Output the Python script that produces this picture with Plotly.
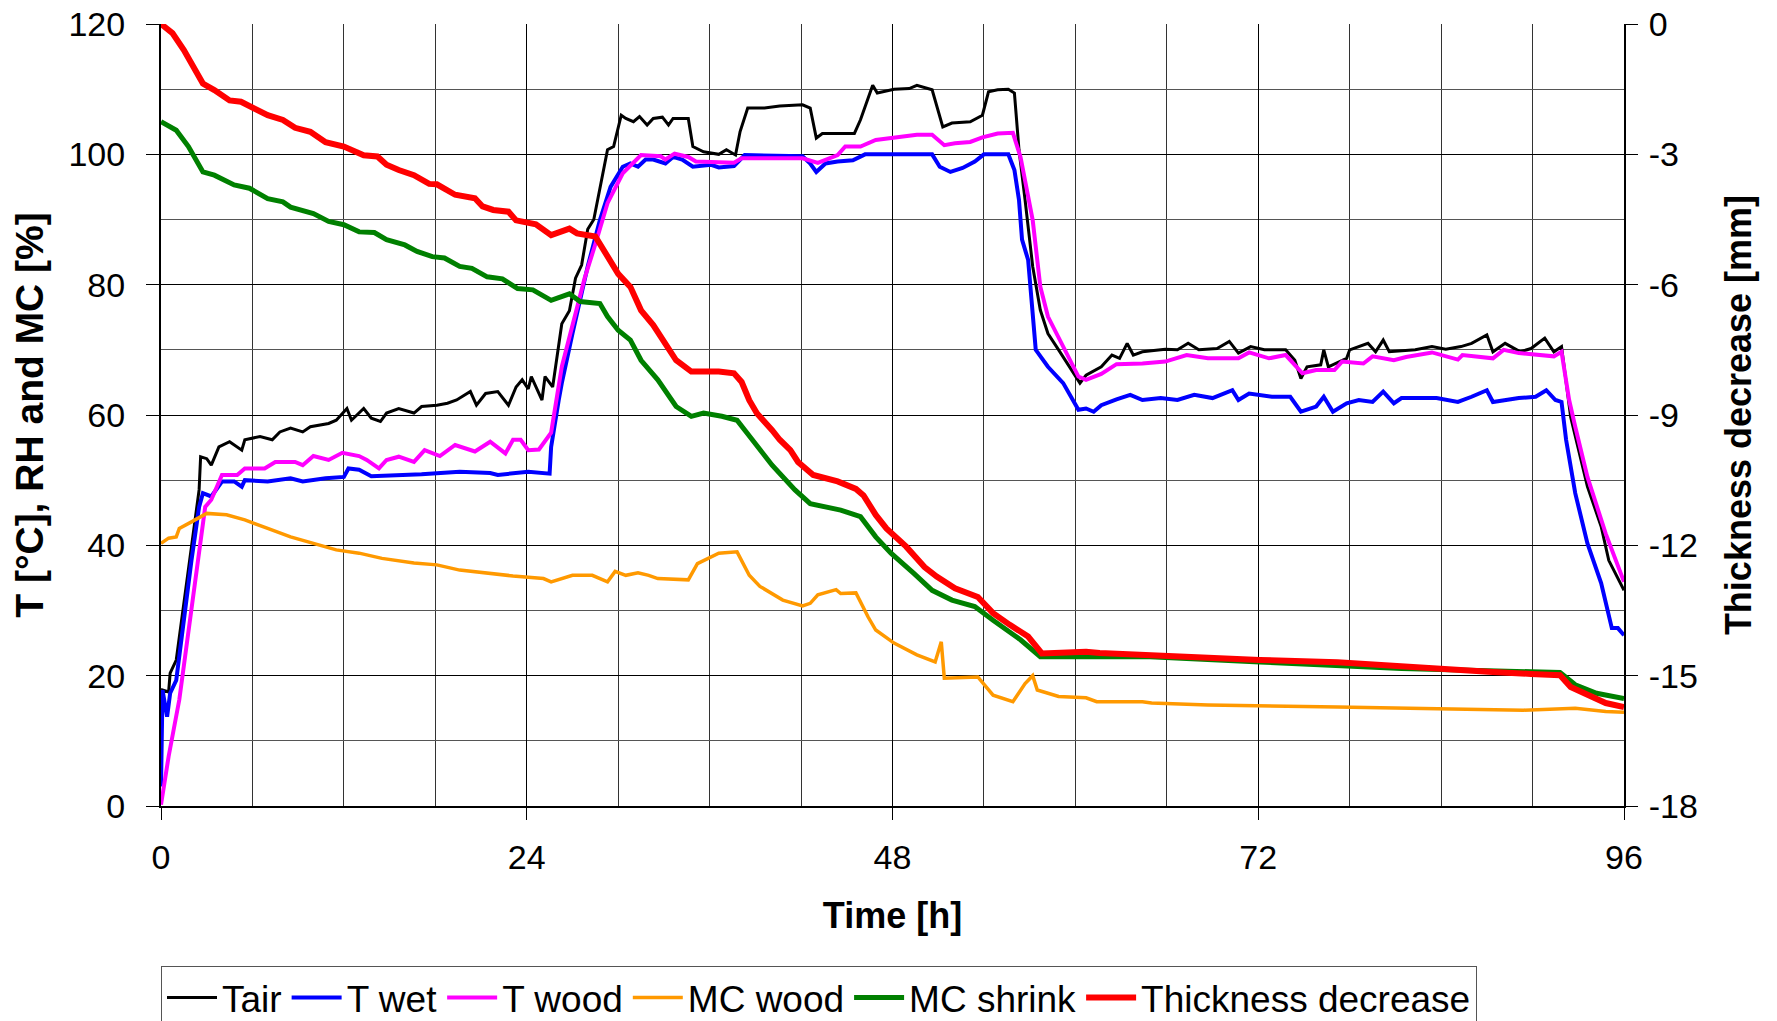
import plotly.graph_objects as go

# ---------------- data ----------------
t_air = [0, 0.1, 0.5, 0.6, 1.0, 1.5, 2.0, 2.5, 2.6, 3.0, 3.3, 3.8, 4.5, 5.3, 5.5, 6.5, 7.3, 7.8, 8.5, 9.3,
         9.8, 11.0, 11.5, 12.2, 12.5, 13.3, 13.8, 14.4, 14.8, 15.6, 16.6, 17.1, 18.1, 18.8, 19.4, 20.3, 20.7,
         21.3, 22.1, 22.8, 23.3, 23.7, 24.1, 24.3, 25.0, 25.2, 25.7, 26.0, 26.3, 26.8, 27.2, 27.6, 28.0, 28.4,
         28.8, 29.3, 29.7, 30.2, 30.5, 31.0, 31.4, 31.9, 32.3, 32.9, 33.3, 33.6, 34.6, 34.9, 35.6, 36.6, 37.1,
         37.7, 38.0, 38.5, 39.6, 40.6, 42.1, 42.6, 43.0, 43.4, 44.1, 45.5, 45.9, 46.4, 46.7, 47.0, 48.1, 49.1,
         49.6, 50.6, 51.3, 51.9, 53.1, 53.9, 54.3, 54.9, 55.6, 56.0, 56.3, 56.7, 57.2, 57.7, 58.2, 58.9, 60.3,
         60.7, 61.7, 62.4, 62.9, 63.4, 63.8, 64.4, 65.9, 66.7, 67.4, 68.1, 69.3, 70.1, 70.7, 71.5, 72.4, 73.8,
         74.4, 74.8, 75.2, 76.1, 76.3, 76.6, 77.8, 78.0, 79.2, 79.7, 80.2, 80.6, 82.3, 83.4, 84.3, 85.3, 86.0,
         87.0, 87.4, 88.2, 89.2, 89.9, 90.8, 91.4, 91.9, 92.5, 93.1, 93.6, 94.5, 95.0, 96.0]
tair = [16.0, 17.8, 17.5, 20.4, 22.4, 31.0, 40.0, 48.5, 53.6, 53.3, 52.3, 55.1, 55.9, 54.6, 56.2, 56.7, 56.2,
        57.4, 58.0, 57.4, 58.2, 58.7, 59.2, 61.0, 59.2, 61.0, 59.5, 59.0, 60.3, 61.0, 60.3, 61.3, 61.5, 61.8,
        62.3, 63.6, 61.5, 63.3, 63.6, 61.5, 64.3, 65.4, 64.0, 65.9, 62.3, 65.9, 64.3, 69.0, 74.0, 76.0, 81.0,
        83.0, 88.5, 90.0, 95.0, 100.7, 101.2, 106.0, 105.5, 105.0, 105.8, 104.5, 105.5, 105.7, 104.5, 105.5,
        105.5, 101.2, 100.4, 100.0, 100.7, 99.9, 103.5, 107.1, 107.1, 107.4, 107.6, 107.1, 102.5, 103.2, 103.2,
        103.2, 105.3, 108.8, 110.6, 109.4, 110.0, 110.1, 110.6, 109.9, 104.2, 104.8, 105.0, 106.0, 109.6, 109.9,
        110.0, 109.4, 100.7, 93.0, 82.8, 76.1, 72.5, 70.0, 64.9, 66.1, 67.4, 69.2, 68.7, 71.0, 69.2, 69.7, 70.1,
        70.0, 71.0, 70.0, 70.2, 71.3, 69.5, 70.5, 70.0, 70.0, 68.4, 65.6, 67.4, 67.7, 70.0, 67.4, 68.7, 70.0,
        71.0, 69.7, 71.5, 69.7, 70.0, 70.5, 70.1, 70.5, 71.0, 72.3, 69.7, 71.0, 69.7, 70.2, 71.8, 69.7, 70.5,
        59.7, 53.6, 49.0, 42.9, 37.7, 33.1]

t_wet = [0, 0.1, 0.4, 0.6, 1.0, 1.5, 2.0, 2.5, 2.75, 3.3, 4.0, 4.8, 5.3, 5.5, 7.0, 8.5, 9.3, 10.8, 12.0, 12.3,
         13.0, 13.8, 17.1, 19.6, 21.6, 22.1, 24.1, 25.5, 25.6, 26.1, 26.3, 27.0, 28.0, 28.8, 29.5, 30.3, 30.8,
         31.3, 31.8, 32.3, 33.1, 33.6, 34.2, 34.9, 36.1, 36.6, 37.6, 38.3, 42.1, 42.6, 43.0, 43.6, 44.4, 45.4,
         46.2, 50.6, 51.1, 51.8, 52.6, 53.4, 54.0, 55.6, 56.0, 56.3, 56.5, 56.9, 57.4, 58.2, 59.2, 60.2, 60.7,
         61.2, 61.7, 62.7, 63.6, 64.4, 65.6, 66.7, 67.8, 69.0, 70.3, 70.7, 71.4, 72.9, 74.1, 74.8, 75.8, 76.3,
         76.9, 77.8, 78.6, 79.5, 80.2, 80.9, 81.4, 83.7, 85.1, 86.0, 87.0, 87.4, 89.1, 90.2, 90.9, 91.5, 91.9,
         92.2, 92.8, 93.6, 94.5, 95.2, 95.6, 96.0]
twet = [3.0, 17.8, 13.7, 17.3, 19.3, 29.1, 37.7, 45.9, 48.0, 47.5, 49.8, 49.8, 49.0, 50.0, 49.8, 50.3, 49.8,
        50.3, 50.5, 51.8, 51.6, 50.6, 50.9, 51.3, 51.1, 50.8, 51.3, 51.0, 55.1, 62.3, 64.9, 72.5, 82.8, 89.9,
        95.0, 98.1, 98.6, 98.1, 99.2, 99.2, 98.6, 99.6, 99.2, 98.1, 98.4, 98.0, 98.2, 99.9, 99.7, 98.6, 97.3,
        98.6, 98.9, 99.1, 100.0, 100.0, 98.1, 97.3, 97.9, 98.9, 100.0, 100.0, 97.6, 93.0, 86.9, 83.8, 70.0,
        67.4, 64.9, 60.8, 61.0, 60.5, 61.5, 62.4, 63.1, 62.3, 62.6, 62.3, 63.1, 62.6, 63.8, 62.3, 63.3, 62.8,
        62.8, 60.5, 61.3, 62.8, 60.5, 61.8, 62.3, 62.0, 63.6, 61.8, 62.6, 62.6, 62.0, 62.8, 63.8, 62.0, 62.6,
        62.8, 63.8, 62.3, 62.0, 56.2, 48.0, 40.3, 34.2, 27.3, 27.3, 26.2]

t_wood = [0, 0.5, 1.2, 2.0, 2.5, 2.9, 3.3, 4.0, 5.0, 5.5, 6.8, 7.5, 8.8, 9.3, 10.0, 11.0, 11.9, 13.0, 13.5,
          14.3, 14.8, 15.6, 16.6, 17.3, 18.3, 19.3, 20.6, 21.6, 22.6, 23.1, 23.6, 24.1, 24.8, 25.6, 26.3, 27.0,
          27.8, 28.5, 29.3, 30.3, 31.5, 32.8, 33.1, 33.7, 34.6, 35.1, 36.6, 37.6, 38.1, 42.1, 43.1, 44.4, 44.9,
          45.9, 46.9, 48.1, 49.6, 50.6, 51.4, 52.1, 53.1, 53.9, 54.9, 55.9, 56.4, 57.2, 57.7, 58.2, 59.2, 60.2,
          60.7, 61.7, 62.7, 64.4, 65.9, 67.3, 68.7, 70.7, 71.4, 72.7, 73.8, 74.9, 75.8, 77.0, 77.5, 78.9, 79.5,
          80.9, 81.7, 83.4, 85.1, 85.4, 87.4, 88.1, 89.1, 91.4, 91.9, 92.4, 92.8, 93.6, 94.8, 96.0]
twood = [0.2, 7.6, 16.3, 30.6, 39.3, 45.9, 47.0, 50.8, 50.8, 51.8, 51.8, 52.8, 52.8, 52.3, 53.7, 53.1, 54.2,
         53.7, 53.1, 51.8, 53.1, 53.6, 52.8, 54.6, 53.7, 55.4, 54.4, 55.9, 54.1, 56.2, 56.2, 54.6, 54.7, 57.3,
         67.4, 74.0, 81.0, 86.2, 92.5, 97.1, 99.9, 99.7, 99.2, 100.1, 99.6, 98.9, 98.7, 98.7, 99.4, 99.4, 98.7,
         99.9, 101.2, 101.2, 102.2, 102.6, 103.0, 103.0, 101.4, 101.7, 101.9, 102.6, 103.2, 103.3, 99.6, 89.9,
         79.7, 75.1, 70.5, 65.9, 65.4, 66.3, 67.8, 67.9, 68.2, 69.2, 68.7, 68.7, 69.6, 68.7, 69.2, 66.4, 66.9,
         66.9, 68.2, 67.9, 69.0, 68.4, 68.9, 69.6, 68.5, 69.2, 68.7, 70.0, 69.5, 69.0, 69.7, 62.3, 58.2, 50.5,
         41.8, 34.4]

t_mcw = [0, 0.5, 1.0, 1.2, 2.0, 3.0, 4.3, 5.5, 7.0, 8.5, 10.0, 11.5, 13.0, 14.5, 16.6, 18.1, 19.6, 21.1, 23.1,
         25.1, 25.6, 27.0, 28.3, 29.3, 29.8, 30.5, 31.3, 32.0, 32.6, 34.6, 35.2, 36.6, 37.8, 38.6, 39.3, 40.8,
         42.1, 42.6, 43.1, 44.3, 44.6, 45.6, 46.4, 46.9, 48.1, 49.6, 50.8, 51.2, 51.4, 53.6, 54.6, 55.9, 56.7,
         57.2, 57.5, 58.9, 60.7, 61.4, 64.4, 65.0, 68.7, 77.2, 83.1, 89.4, 92.8, 94.8, 96.0]
mc_wood = [40.3, 41.1, 41.3, 42.6, 43.6, 44.9, 44.7, 43.9, 42.6, 41.3, 40.3, 39.3, 38.8, 38.0, 37.3, 37.0,
           36.2, 35.8, 35.3, 34.9, 34.4, 35.4, 35.4, 34.4, 36.0, 35.4, 35.8, 35.4, 34.9, 34.7, 37.2, 38.8, 39.0,
           35.4, 33.7, 31.6, 30.7, 31.1, 32.4, 33.2, 32.6, 32.7, 29.0, 27.0, 25.0, 23.2, 22.1, 25.2, 19.6, 19.8,
           17.0, 16.0, 18.8, 20.0, 17.8, 16.8, 16.6, 16.0, 16.0, 15.8, 15.5, 15.2, 15.0, 14.7, 15.0, 14.5, 14.4]

t_mcs = [0, 1.0, 1.8, 2.75, 3.5, 4.8, 5.8, 7.0, 8.0, 8.5, 10.0, 11.0, 12.0, 13.0, 14.0, 14.8, 16.0, 16.8, 17.8,
         18.6, 19.6, 20.4, 21.4, 22.4, 23.4, 24.4, 25.6, 26.8, 27.5, 28.8, 29.3, 30.0, 30.8, 31.5, 32.6, 33.8,
         34.8, 35.6, 36.8, 37.8, 38.3, 39.3, 40.1, 41.6, 42.6, 44.6, 45.9, 46.9, 47.9, 49.4, 50.6, 51.9, 53.4,
         54.6, 56.4, 57.7, 60.7, 64.9, 72.1, 81.4, 89.9, 91.8, 92.8, 94.2, 96.0]
mc_shrink = [105.0, 103.7, 101.2, 97.3, 96.8, 95.3, 94.8, 93.2, 92.7, 91.9, 90.9, 89.7, 89.2, 88.1, 88.0, 86.9,
             86.1, 85.1, 84.3, 84.1, 82.8, 82.5, 81.2, 80.9, 79.4, 79.2, 77.6, 78.6, 77.4, 77.1, 75.1, 73.0,
             71.5, 68.4, 65.4, 61.3, 59.8, 60.3, 59.8, 59.2, 57.7, 54.6, 52.3, 48.5, 46.4, 45.4, 44.4, 41.3,
             38.8, 35.7, 33.1, 31.6, 30.6, 28.5, 25.5, 22.9, 22.9, 22.9, 22.1, 21.1, 20.6, 20.5, 18.6, 17.3, 16.5]

t_thk = [0, 0.75, 1.5, 2.75, 3.5, 4.5, 5.25, 6.0, 7.0, 8.0, 8.8, 9.8, 10.8, 12.0, 13.3, 14.2, 14.8, 15.6, 16.6,
         17.6, 18.1, 19.3, 20.6, 21.1, 21.8, 22.8, 23.3, 24.6, 25.6, 26.8, 27.3, 28.5, 29.3, 30.0, 30.8, 31.5,
         32.3, 33.1, 33.8, 34.8, 36.6, 37.6, 38.1, 38.6, 39.1, 40.1, 40.6, 41.3, 41.8, 42.8, 44.4, 45.6, 46.1,
         46.9, 47.6, 48.9, 50.1, 50.9, 52.1, 53.6, 54.6, 55.7, 56.9, 57.8, 59.2, 60.7, 61.6, 65.9, 68.7, 72.1,
         77.2, 81.4, 84.3, 87.1, 89.9, 91.8, 92.5, 93.6, 94.8, 96.0]
thickness = [0.0, -0.21, -0.60, -1.37, -1.52, -1.76, -1.79, -1.91, -2.10, -2.21, -2.39, -2.48, -2.72, -2.82,
             -3.02, -3.05, -3.24, -3.36, -3.48, -3.68, -3.69, -3.93, -4.01, -4.20, -4.28, -4.32, -4.52, -4.61,
             -4.86, -4.71, -4.82, -4.89, -5.36, -5.75, -6.05, -6.59, -6.93, -7.35, -7.74, -8.00, -8.00, -8.04,
             -8.24, -8.66, -8.96, -9.35, -9.57, -9.81, -10.08, -10.38, -10.53, -10.70, -10.85, -11.30, -11.61,
             -12.03, -12.50, -12.72, -12.99, -13.19, -13.56, -13.83, -14.10, -14.49, -14.46, -14.45, -14.48,
             -14.55, -14.57, -14.64, -14.69, -14.79, -14.87, -14.91, -14.96, -14.99, -15.26, -15.45, -15.63,
             -15.72]

x_ticks = [0, 24, 48, 72, 96]
left_ticks = [0, 20, 40, 60, 80, 100, 120]
right_ticks = [0, -3, -6, -9, -12, -15, -18]

# ---------------- figure ----------------
FONT = "Liberation Sans, Arial, sans-serif"

fig = go.Figure()
fig.add_trace(go.Scatter(x=t_air, y=tair, name="Tair", mode="lines",
                         line=dict(color="#000000", width=3)))
fig.add_trace(go.Scatter(x=t_wet, y=twet, name="T wet", mode="lines",
                         line=dict(color="#0000FF", width=4)))
fig.add_trace(go.Scatter(x=t_wood, y=twood, name="T wood", mode="lines",
                         line=dict(color="#FF00FF", width=4)))
fig.add_trace(go.Scatter(x=t_mcw, y=mc_wood, name="MC wood", mode="lines",
                         line=dict(color="#FF9900", width=3.5)))
fig.add_trace(go.Scatter(x=t_mcs, y=mc_shrink, name="MC shrink", mode="lines",
                         line=dict(color="#008000", width=5)))
fig.add_trace(go.Scatter(x=t_thk, y=thickness, name="Thickness decrease", mode="lines",
                         line=dict(color="#FF0000", width=6), yaxis="y2"))

fig.update_layout(
    width=1777, height=1021,
    margin=dict(l=153, r=161, t=16, b=223, autoexpand=False),
    paper_bgcolor="white", plot_bgcolor="white",
    font=dict(family=FONT, size=34, color="black"),
    showlegend=True,
    legend=dict(orientation="h", x=0, xanchor="left", y=-0.2046, yanchor="top",
                bordercolor="#555555", borderwidth=1, bgcolor="white",
                font=dict(family=FONT, size=37, color="black"),
                itemwidth=50, traceorder="normal"),
    xaxis=dict(range=[0, 96], tickvals=x_ticks, ticktext=[str(v) for v in x_ticks],
               showgrid=True, gridcolor="#000000", gridwidth=1,
               minor=dict(dtick=6, tick0=0, showgrid=True, gridcolor="#333333", gridwidth=1, ticks=""),
               showline=True, linecolor="#000000", linewidth=2,
               ticks="outside", ticklen=12, tickwidth=1, tickcolor="#000000",
               ticklabelstandoff=8, ticklabeloverflow="allow", zeroline=False,
               tickfont=dict(size=34),
               title=dict(text="<b>Time [h]</b>", font=dict(size=36), standoff=28)),
    yaxis=dict(range=[0, 120], tickvals=left_ticks, ticktext=[str(v) for v in left_ticks],
               showgrid=True, gridcolor="#000000", gridwidth=1,
               minor=dict(dtick=10, tick0=0, showgrid=True, gridcolor="#555555", gridwidth=1, ticks=""),
               showline=True, linecolor="#000000", linewidth=2,
               ticks="outside", ticklen=13, tickwidth=1, tickcolor="#000000",
               ticklabelstandoff=14, ticklabeloverflow="allow", zeroline=False,
               tickfont=dict(size=34),
               title=dict(text="<b>T [°C], RH and MC [%]</b>", font=dict(size=39), standoff=26)),
    yaxis2=dict(range=[-18, 0], tickvals=right_ticks, ticktext=[str(v) for v in right_ticks],
                overlaying="y", side="right", showgrid=False, zeroline=False,
                showline=True, linecolor="#000000", linewidth=2,
                ticks="outside", ticklen=12, tickwidth=1, tickcolor="#000000",
                ticklabelstandoff=4, ticklabeloverflow="allow",
                tickfont=dict(size=34),
                title=dict(text="<b>Thickness decrease [mm]</b>", font=dict(size=36), standoff=29)),
)

fig.write_html("out.html")
